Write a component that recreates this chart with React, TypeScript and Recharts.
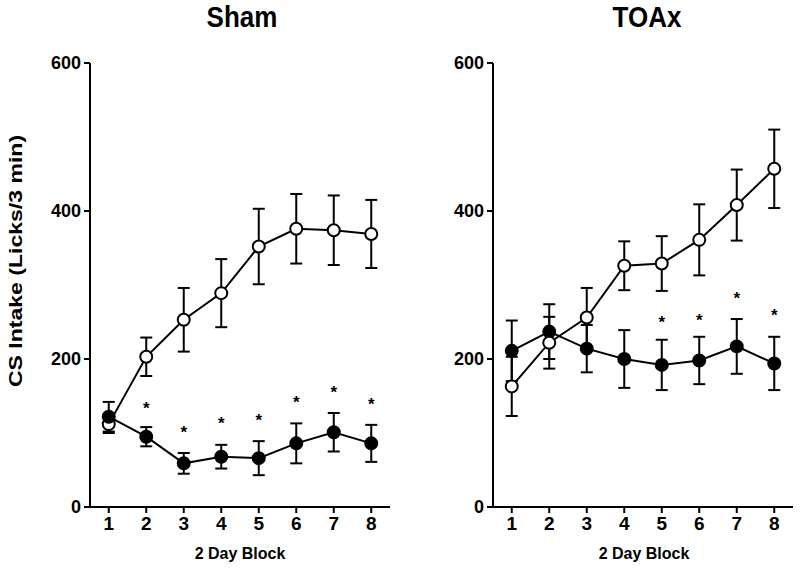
import { ErrorBar, Line, LineChart, XAxis, YAxis } from "recharts";

const BLOCKS = [1, 2, 3, 4, 5, 6, 7, 8];
const Y_TICKS = [0, 200, 400, 600];

// Sham group
const SHAM_OPEN = [112, 203, 253, 289, 352, 376, 374, 369];
const SHAM_OPEN_ERR = [12, 26, 43, 46, 51, 47, 47, 46];
const SHAM_FILLED = [122, 95, 59, 68, 66, 86, 101, 86];
const SHAM_FILLED_ERR = [20, 13, 14, 16, 23, 27, 26, 25];
const SHAM_STARS = [null, 138, 105, 118, 122, 146, 160, 143];

// TOAx group
const TOAX_OPEN = [163, 222, 256, 326, 329, 361, 408, 457];
const TOAX_OPEN_ERR = [40, 35, 40, 33, 37, 48, 48, 53];
const TOAX_FILLED = [211, 237, 214, 200, 192, 198, 217, 194];
const TOAX_FILLED_ERR = [41, 37, 32, 39, 34, 32, 37, 36];
const TOAX_STARS = [null, null, null, null, 254, 257, 287, 263];

const FONT = "Arial, 'Liberation Sans', Helvetica, sans-serif";

type Row = {
  block: number;
  open: number;
  openErr: number;
  filled: number;
  filledErr: number;
  star: number | null;
};

function buildRows(
  open: number[],
  openErr: number[],
  filled: number[],
  filledErr: number[],
  stars: (number | null)[],
): Row[] {
  return BLOCKS.map((block, i) => ({
    block,
    open: open[i],
    openErr: openErr[i],
    filled: filled[i],
    filledErr: filledErr[i],
    star: stars[i],
  }));
}

function StarDot(props: any) {
  const { cx, cy, index } = props;
  if (cx == null || cy == null || Number.isNaN(cy)) return <g key={`s-${index}`} />;
  return (
    <text
      key={`s-${index}`}
      x={cx}
      y={cy + 9}
      textAnchor="middle"
      fontSize={17}
      fontWeight="bold"
      fontFamily={FONT}
      fill="#000"
    >
      *
    </text>
  );
}

const xTickStyle = { fill: "#000", fontSize: 19, fontWeight: "bold", fontFamily: FONT };
const yTickStyle = { fill: "#000", fontSize: 18, fontWeight: "bold", fontFamily: FONT };

type PanelProps = {
  rows: Row[];
  marginLeft: number;
  marginRight: number;
  openOnTop: boolean;
};

function Panel({ rows, marginLeft, marginRight, openOnTop }: PanelProps) {
  const openLine = (
    <Line
      key="open"
      dataKey="open"
      stroke="#000"
      strokeWidth={2}
      isAnimationActive={false}
      dot={{ r: 6, fill: "#fff", stroke: "#000", strokeWidth: 2 }}
      activeDot={false}
    >
      <ErrorBar dataKey="openErr" width={6} stroke="#000" strokeWidth={2} direction="y" />
    </Line>
  );
  const filledLine = (
    <Line
      key="filled"
      dataKey="filled"
      stroke="#000"
      strokeWidth={2}
      isAnimationActive={false}
      dot={{ r: 6, fill: "#000", stroke: "#000", strokeWidth: 2 }}
      activeDot={false}
    >
      <ErrorBar dataKey="filledErr" width={6} stroke="#000" strokeWidth={2} direction="y" />
    </Line>
  );
  return (
    <LineChart
      width={400}
      height={569}
      data={rows}
      margin={{ top: 63, right: marginRight, bottom: 22, left: marginLeft }}
    >
      <XAxis
        dataKey="block"
        type="number"
        domain={[0.5, 8.5]}
        ticks={BLOCKS}
        height={40}
        stroke="#000"
        strokeWidth={2}
        tickSize={6}
        tickMargin={4}
        tick={xTickStyle}
      />
      <YAxis
        type="number"
        domain={[0, 600]}
        ticks={Y_TICKS}
        width={60}
        stroke="#000"
        strokeWidth={2}
        tickSize={6}
        tickMargin={3}
        tick={yTickStyle}
      />
      {openOnTop ? [filledLine, openLine] : [openLine, filledLine]}
      <Line
        dataKey="star"
        stroke="none"
        isAnimationActive={false}
        dot={StarDot}
        activeDot={false}
        legendType="none"
      />
    </LineChart>
  );
}

const SHAM_ROWS = buildRows(SHAM_OPEN, SHAM_OPEN_ERR, SHAM_FILLED, SHAM_FILLED_ERR, SHAM_STARS);
const TOAX_ROWS = buildRows(TOAX_OPEN, TOAX_OPEN_ERR, TOAX_FILLED, TOAX_FILLED_ERR, TOAX_STARS);

const titleStyle = (center: number): React.CSSProperties => ({
  position: "absolute",
  left: center - 100,
  width: 200,
  top: 2,
  textAlign: "center",
  fontSize: 26,
  lineHeight: "26px",
  fontWeight: "bold",
  transform: "scaleY(1.12)",
  transformOrigin: "center top",
});

const xLabelStyle = (center: number): React.CSSProperties => ({
  position: "absolute",
  left: center - 100,
  width: 200,
  top: 546,
  textAlign: "center",
  fontSize: 16,
  lineHeight: "16px",
  fontWeight: "bold",
});

export default function App() {
  return (
    <div
      style={{
        position: "absolute",
        left: 0,
        top: 0,
        width: 800,
        height: 569,
        background: "#fff",
        fontFamily: FONT,
        color: "#000",
        overflow: "hidden",
      }}
    >
      <div style={{ position: "absolute", left: 0, top: 0 }}>
        <Panel rows={SHAM_ROWS} marginLeft={30} marginRight={10} openOnTop={false} />
      </div>
      <div style={{ position: "absolute", left: 400, top: 0 }}>
        <Panel rows={TOAX_ROWS} marginLeft={33} marginRight={7} openOnTop={true} />
      </div>
      <div style={titleStyle(242)}>Sham</div>
      <div style={titleStyle(647)}>TOAx</div>
      <div style={xLabelStyle(240)}>2 Day Block</div>
      <div style={xLabelStyle(644)}>2 Day Block</div>
      <div
        style={{
          position: "absolute",
          left: 16,
          top: 261,
          transform: "translate(-50%, -50%) rotate(-90deg) scaleX(1.28)",
          whiteSpace: "nowrap",
          fontSize: 18,
          lineHeight: "18px",
          fontWeight: "bold",
        }}
      >
        CS Intake (Licks/3 min)
      </div>
    </div>
  );
}
